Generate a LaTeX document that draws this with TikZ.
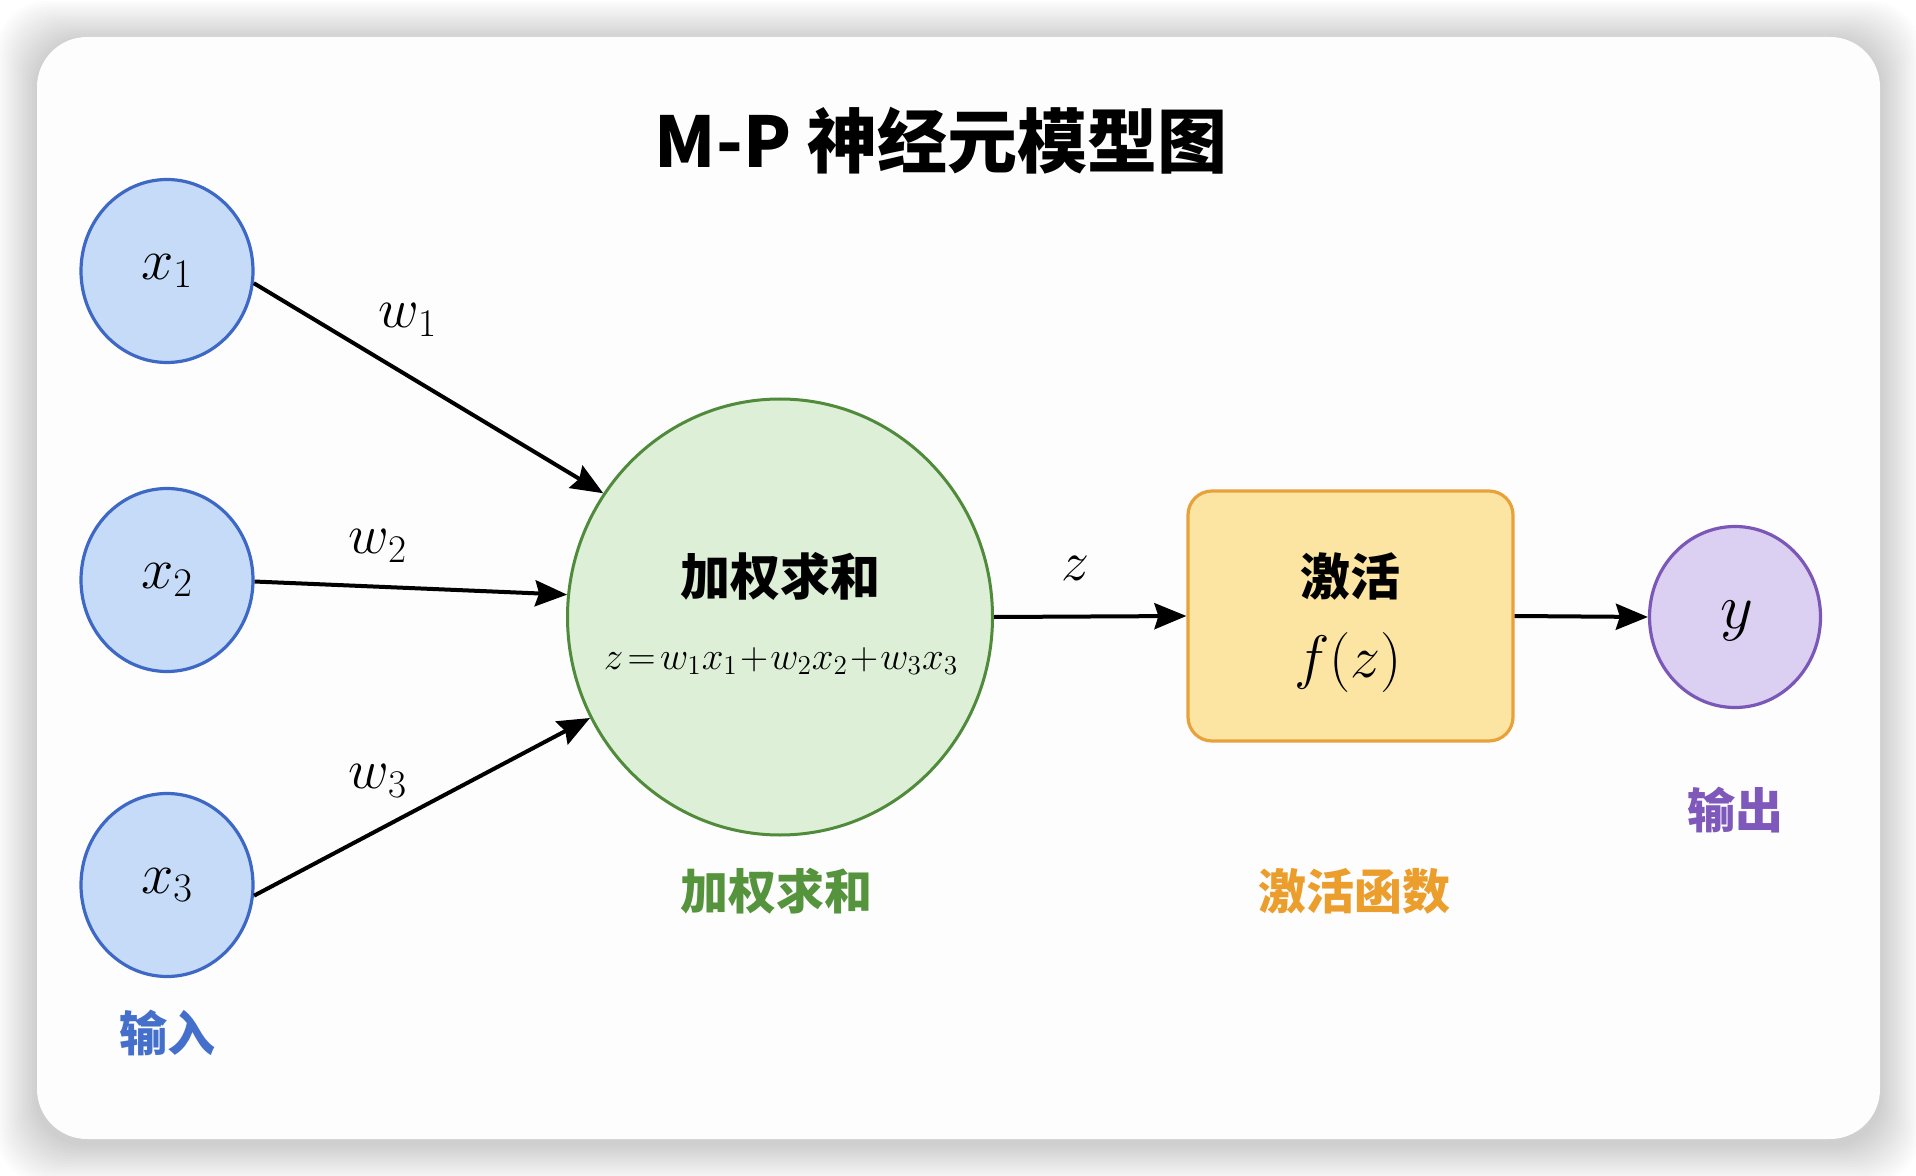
\RequirePackage{fix-cm}
\documentclass[tikz,border=0pt]{standalone}
\usepackage{fontspec}
\newfontfamily\cjk{Noto Sans CJK SC}
\usetikzlibrary{arrows.meta,calc,shapes.geometric}
\definecolor{bluebd}{HTML}{3D68C6}
\definecolor{bluefill}{HTML}{C6DBF8}
\definecolor{greenbd}{HTML}{4F8B3B}
\definecolor{greenfill}{HTML}{DDEFD7}
\definecolor{orangebd}{HTML}{E9A23B}
\definecolor{yellowfill}{HTML}{FCE5A2}
\definecolor{purplebd}{HTML}{7B57B8}
\definecolor{purplefill}{HTML}{DCD0F2}
\definecolor{bluetxt}{HTML}{4470CC}
\definecolor{greentxt}{HTML}{55943C}
\definecolor{orangetxt}{HTML}{EC9E2C}
\definecolor{purpletxt}{HTML}{7E58BA}
\definecolor{cardfill}{HTML}{FDFDFD}
\begin{document}
\begin{tikzpicture}[x=0.5pt,y=-0.5pt,
  inputnode/.style={ellipse, draw=bluebd, fill=bluefill, line width=1.6pt,
    minimum width=86pt, minimum height=91.5pt, inner sep=0pt},
  sumnode/.style={ellipse, draw=greenbd, fill=greenfill, line width=1.5pt,
    minimum width=212.5pt, minimum height=218pt, inner sep=0pt},
  actnode/.style={rectangle, rounded corners=12pt, draw=orangebd, fill=yellowfill,
    line width=1.6pt, minimum width=162.5pt, minimum height=125pt, inner sep=0pt},
  outnode/.style={ellipse, draw=purplebd, fill=purplefill, line width=1.6pt,
    minimum width=85.5pt, minimum height=90.5pt, inner sep=0pt},
  conn/.style={line width=2pt, -{Stealth[length=16pt,width=13pt,inset=2pt]}},
  mathlbl/.style={font=\fontsize{29}{32}\selectfont, inner sep=0pt},
  wlbl/.style={font=\fontsize{28}{32}\selectfont, inner sep=0pt},
  cjklbl/.style={font=\cjk\bfseries\fontsize{24}{28}\selectfont, inner sep=0pt},
]
\useasboundingbox (0,0) rectangle (1916,1176);
\fill[white] (0,0) rectangle (1916,1176);
% soft shadow
\foreach \i in {1,...,16}{
  \fill[black, fill opacity=0.011, rounded corners=25pt]
    ({37-\i*2.5},{41-\i*2.5}) rectangle ({1880+\i*2.5},{1144+\i*2.5});
}
\fill[cardfill, rounded corners=25pt] (37,37) rectangle (1880,1139);

% title
\node[font=\cjk\bfseries\fontsize{35}{40}\selectfont, inner sep=0pt] (title) at (941,141) {M-P 神经元模型图};

% nodes
\node[inputnode] (x1) at (167,271) {};
\node[inputnode] (x2) at (167,580) {};
\node[inputnode] (x3) at (167,885) {};
\node[mathlbl] (x1t) at (167,271) {$x_1$};
\node[mathlbl] (x2t) at (167,580) {$x_2$};
\node[mathlbl] (x3t) at (167,885) {$x_3$};

\node[sumnode] (sum) at (780,617) {};
\node[font=\cjk\bfseries\fontsize{25}{30}\selectfont, inner sep=0pt] (sumt) at (780,576) {加权求和};
\node[font=\fontsize{19.5}{22}\selectfont, inner sep=0pt] (sumf) at (781,661)
  {$z\!=\!w_1x_1\!+\!w_2x_2\!+\!w_3x_3$};

\node[actnode] (act) at (1350.5,616) {};
\node[font=\cjk\bfseries\fontsize{25}{30}\selectfont, inner sep=0pt] (actt) at (1350,576) {激活};
\node[font=\fontsize{30}{34}\selectfont, inner sep=0pt] (actf) at (1348,662) {$f(z)$};

\node[outnode] (y) at (1735,617) {};
\node[font=\fontsize{32}{36}\selectfont, inner sep=0pt] (yt) at (1737,621) {$y$};

% labels below
\node[cjklbl, text=bluetxt] (lin) at (167,1033) {输入};
\node[cjklbl, text=greentxt] (lsum) at (776,891) {加权求和};
\node[cjklbl, text=orangetxt] (lact) at (1354,891) {激活函数};
\node[cjklbl, text=purpletxt] (lout) at (1735,810) {输出};

% connectors
\draw[conn] (x1.-8) -- (sum.145);
\draw[conn] (x2.-1) -- (sum.174);
\draw[conn] (x3.-7) -- (sum.208);
\draw[conn] (sum.east) -- (act.west);
\draw[conn] (act.east) -- (y.west);

% weight labels
\node[wlbl] (w1) at (408,320) {$w_1$};
\node[wlbl] (w2) at (378,546) {$w_2$};
\node[wlbl] (w3) at (378,781) {$w_3$};
\node[wlbl] (zl) at (1075,568) {$z$};
\end{tikzpicture}
\end{document}
